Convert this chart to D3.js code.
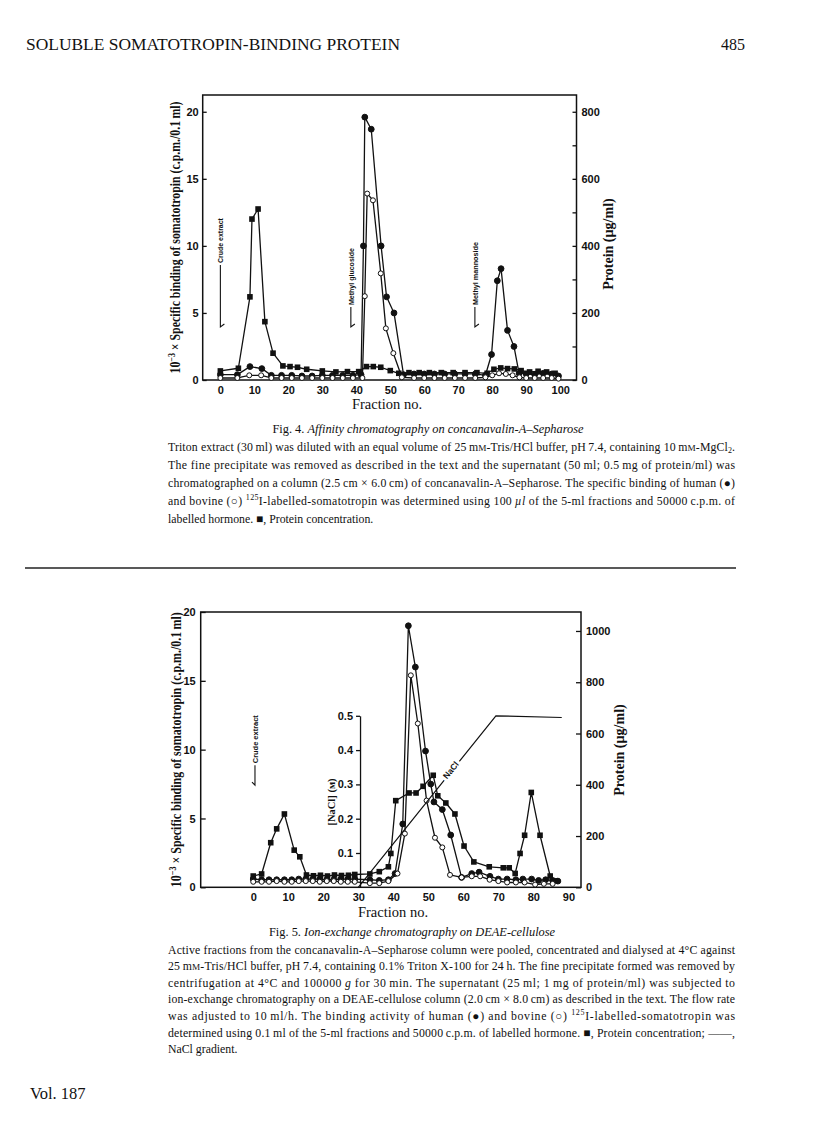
<!DOCTYPE html>
<html lang="en">
<head>
<meta charset="UTF-8">
<title>Soluble somatotropin-binding protein, Figs. 4 and 5</title>
<script src="https://d3js.org/d3.v7.min.js"></script>
<style>
  body { margin: 0; background: #fff; }
  svg { display: block; }
  .tick text { font-family: "Liberation Sans", Arial, sans-serif; font-weight: bold; font-size: 11px; fill: #111; }
  .tick line, .domain { stroke: #111; stroke-width: 1.3; }
  .serif { font-family: "Liberation Serif", "Times New Roman", serif; fill: #111; }
  .sans { font-family: "Liberation Sans", Arial, sans-serif; fill: #111; }
</style>
</head>
<body>
<svg width="816" height="1136"></svg>
<script>
// ---- Fig. 4: affinity chromatography (fraction no. / value) ----
var f4ProteinFrac = [0, 5.3, 8.7, 9.3, 11.1, 13.1, 15.5, 18.4, 20.5, 22.7, 25.4, 30, 34, 37.4, 40.7, 43, 45, 47.2, 50, 52.5, 55.5, 58.5, 61.5, 65, 68.5, 72, 75.5, 78.5, 80.5, 82.5, 84.5, 86.5, 88.5, 91, 93.5, 96, 98.5];
var f4ProteinUg   = [27, 35, 248, 480, 510, 174, 80, 42, 40, 38, 32, 27, 24, 25, 25, 40, 40, 38, 28, 20, 22, 22, 22, 22, 22, 22, 22, 20, 32, 36, 34, 33, 28, 24, 26, 24, 20];
var f4HumanFrac = [0, 5, 8.7, 12.2, 15, 18, 21, 24, 27, 30, 33, 36, 39, 41.4, 42.1, 42.5, 44.4, 47.3, 48.9, 51.1, 53.9, 57, 60, 63, 66, 69, 72, 75, 78, 79.8, 81.5, 82.6, 84.5, 86.4, 87.9, 90, 92.5, 95, 97.5, 99.5];
var f4HumanCpm  = [0.4, 0.4, 1.0, 0.85, 0.35, 0.35, 0.35, 0.3, 0.3, 0.35, 0.35, 0.35, 0.35, 0.4, 10.0, 19.6, 18.7, 10.0, 6.2, 5.0, 0.4, 0.45, 0.45, 0.45, 0.45, 0.45, 0.45, 0.45, 0.35, 1.9, 7.4, 8.3, 3.7, 2.5, 0.5, 0.45, 0.4, 0.5, 0.45, 0.3];
var f4BovineFrac = [0, 5, 8.5, 12, 15, 18, 21, 24, 27, 30, 33, 36, 39, 41.8, 42.5, 43.2, 44.9, 47.2, 48.7, 50.9, 53.4, 57, 60, 63, 66, 69, 72, 75, 78, 80, 82, 84, 86, 88, 90, 92.5, 95, 97.5, 99.5];
var f4BovineCpm  = [0.15, 0.15, 0.35, 0.35, 0.15, 0.15, 0.15, 0.15, 0.15, 0.15, 0.15, 0.15, 0.15, 0.15, 6.25, 13.9, 13.4, 7.95, 3.85, 2.0, 0.2, 0.15, 0.15, 0.15, 0.15, 0.15, 0.15, 0.15, 0.2, 0.35, 0.5, 0.45, 0.35, 0.2, 0.15, 0.15, 0.15, 0.15, 0.1];
var f4XTicks = [0, 10, 20, 30, 40, 50, 60, 70, 80, 90, 100];
var f4LeftTicks = [0, 5, 10, 15, 20];
var f4RightTicks = [0, 100, 200, 300, 400, 500, 600, 700, 800];
var f4Markers = ["Crude extract", "Methyl glucoside", "Methyl mannoside"];
var f4MarkerFrac = [0, 38.4, 74.9];

// ---- Fig. 5: ion-exchange chromatography ----
var f5ProteinFrac = [0, 2.4, 5, 6.7, 8.9, 11.7, 13.3, 15.2, 17.2, 19.2, 21.2, 23.2, 25.2, 27.2, 29, 33.3, 36, 38.6, 39.3, 40.7, 44.5, 46.5, 48.5, 51.4, 52.7, 55, 57.6, 60.2, 63, 67.4, 71.4, 73.1, 74.8, 76.2, 77.5, 79.4, 81.9, 84.8, 86.2];
var f5ProteinUg   = [44, 52, 174, 228, 286, 145, 119, 48, 45, 47, 44, 48, 46, 47, 50, 52, 61, 80, 132, 338, 368, 368, 394, 437, 357, 329, 286, 161, 99, 80, 76, 76, 54, 132, 203, 370, 203, 44, 25];
var f5HumanFrac = [0, 2.4, 4.5, 6.7, 8.9, 11, 13, 15, 17, 19, 21, 23, 25, 27, 29, 33.3, 36, 38.6, 40.5, 42.7, 44.3, 46.3, 49.2, 50.7, 51.6, 54, 56.4, 59.5, 62.4, 64.5, 67.6, 70, 72.5, 75, 77, 79.5, 81.5, 83.5, 85.5, 87];
var f5HumanCpm  = [0.6, 0.55, 0.55, 0.55, 0.55, 0.55, 0.6, 0.6, 0.6, 0.6, 0.55, 0.55, 0.6, 0.6, 0.6, 0.55, 0.5, 0.55, 1.0, 4.6, 19.0, 16.0, 9.9, 7.5, 6.2, 5.65, 3.8, 0.72, 1.0, 1.1, 0.8, 0.6, 0.6, 0.55, 0.6, 0.6, 0.5, 0.55, 0.5, 0.45];
var f5BovineFrac = [0, 2.4, 4.5, 6.7, 8.9, 11, 13, 15, 17, 19, 21, 23, 25, 27, 29, 33.3, 36, 38.6, 41.2, 43.3, 45, 47, 49.5, 51.9, 54, 56.2, 59.5, 62.4, 64.8, 67.5, 70, 72.5, 75, 77.5, 80.5, 83, 85.5];
var f5BovineCpm  = [0.4, 0.4, 0.4, 0.45, 0.4, 0.4, 0.45, 0.45, 0.45, 0.4, 0.45, 0.45, 0.4, 0.4, 0.4, 0.3, 0.3, 0.45, 1.0, 3.9, 15.4, 11.9, 6.3, 3.6, 2.9, 0.9, 0.72, 0.8, 0.8, 0.55, 0.45, 0.35, 0.35, 0.35, 0.2, 0.25, 0.25];
var f5NaClFrac = [30, 69.3, 88.1];
var f5NaClM    = [0, 0.5, 0.495];
var f5XTicks = [0, 10, 20, 30, 40, 50, 60, 70, 80, 90];
var f5LeftTicks = [0, 5, 10, 15, 20];
var f5RightTicks = [0, 200, 400, 600, 800, 1000];
var f5NaClTicks = [0.1, 0.2, 0.3, 0.4, 0.5];

// ---- page text ----
var headerText = "SOLUBLE SOMATOTROPIN-BINDING PROTEIN";
var pageNo = "485";
var volText = "Vol. 187";
var yTitle = "10{sup}\u22123{/sup} \u00d7 Specific binding of somatotropin (c.p.m./0.1\u2009ml)";
var fig4Caption = [
  "Fig. 4. {i}Affinity chromatography on concanavalin-A\u2013Sepharose{/i}",
  "Triton extract (30\u2009ml) was diluted with an equal volume of 25\u2009m{sc}M{/sc}-Tris/HCl buffer, pH\u20097.4, containing 10\u2009m{sc}M{/sc}-MgCl{sub}2{/sub}.",
  "The fine precipitate was removed as described in the text and the supernatant (50\u2009ml; 0.5\u2009mg of protein/ml) was",
  "chromatographed on a column (2.5\u2009cm \u00d7 6.0\u2009cm) of concanavalin-A\u2013Sepharose. The specific binding of human (\u25cf)",
  "and bovine (\u25cb) {sup}125{/sup}I-labelled-somatotropin was determined using 100\u2009{i}\u00b5l{/i} of the 5-ml fractions and 50000\u2009c.p.m. of",
  "labelled hormone. \u25a0, Protein concentration."
];
var fig5Caption = [
  "Fig. 5. {i}Ion-exchange chromatography on DEAE-cellulose{/i}",
  "Active fractions from the concanavalin-A\u2013Sepharose column were pooled, concentrated and dialysed at 4\u00b0C against",
  "25\u2009m{sc}M{/sc}-Tris/HCl buffer, pH\u20097.4, containing 0.1% Triton X-100 for 24\u2009h. The fine precipitate formed was removed by",
  "centrifugation at 4\u00b0C and 100000\u2009{i}g{/i} for 30\u2009min. The supernatant (25\u2009ml; 1\u2009mg of protein/ml) was subjected to",
  "ion-exchange chromatography on a DEAE-cellulose column (2.0\u2009cm \u00d7 8.0\u2009cm) as described in the text. The flow rate",
  "was adjusted to 10\u2009ml/h. The binding activity of human (\u25cf) and bovine (\u25cb) {sup}125{/sup}I-labelled-somatotropin was",
  "determined using 0.1\u2009ml of the 5-ml fractions and 50000\u2009c.p.m. of labelled hormone. \u25a0, Protein concentration; \u2014\u2014,",
  "NaCl gradient."
];

var svg = d3.select("svg");
svg.append("rect").attr("width", 816).attr("height", 1136).attr("fill", "#fff");

// writes "{i}..{/i}", "{sup}", "{sub}", "{sc}" markup into tspans
function addRich(sel, str, size) {
  var parts = str.split(/(\{\/?(?:i|sup|sub|sc)\})/);
  var st = {}, shift = 0;
  parts.forEach(function(p) {
    var m = p.match(/^\{(\/?)(\w+)\}$/);
    if (m) { st[m[2]] = !m[1]; return; }
    if (!p) return;
    var target = st.sup ? -0.38 * size : st.sub ? 0.22 * size : 0;
    var t = sel.append("tspan").text(p);
    if (target !== shift) { t.attr("dy", target - shift); shift = target; }
    if (st.i) t.attr("font-style", "italic");
    if (st.sup || st.sub) t.attr("font-size", size * 0.68);
    if (st.sc) t.attr("font-size", size * 0.78);
  });
}

function zipPts(fr, vals) { return d3.zip(fr, vals).map(function(d) { return {f: d[0], v: d[1]}; }); }

// header / footer
svg.append("text").attr("class", "serif").attr("x", 26).attr("y", 50)
  .attr("font-size", 16).attr("textLength", 374).attr("lengthAdjust", "spacingAndGlyphs").text(headerText);
svg.append("text").attr("class", "serif").attr("x", 745).attr("y", 50)
  .attr("font-size", 16).attr("text-anchor", "end").text(pageNo);
svg.append("text").attr("class", "serif").attr("x", 30).attr("y", 1099)
  .attr("font-size", 16.5).text(volText);
svg.append("line").attr("x1", 25).attr("x2", 736).attr("y1", 568).attr("y2", 568)
  .attr("stroke", "#222").attr("stroke-width", 1.6);

function caption(lines, titleX, titleY, firstY, step) {
  var t = svg.append("text").attr("class", "serif").attr("x", titleX).attr("y", titleY)
    .attr("font-size", 12.4).attr("text-anchor", "middle");
  addRich(t, lines[0], 12.4);
  lines.slice(1).forEach(function(l, i) {
    var s = svg.append("text").attr("class", "serif").attr("x", 168).attr("y", firstY + i * step)
      .attr("font-size", 11.8);
    addRich(s, l, 11.8);
    if (i < lines.length - 2) s.attr("textLength", 567).attr("lengthAdjust", "spacing");
  });
}
caption(fig4Caption, 428, 432.5, 450.5, 18);
caption(fig5Caption, 412, 935.5, 953.5, 16.6);

function drawPanel(c) {
  var g = svg.append("g");
  var x = d3.scaleLinear().domain(c.xDomain).range(c.xRange);
  var yL = d3.scaleLinear().domain(c.leftDomain).range(c.yRange);
  var yR = d3.scaleLinear().domain(c.rightDomain).range(c.yRange);

  g.append("g").attr("transform", "translate(0," + c.yRange[0] + ")")
    .call(d3.axisBottom(x).tickValues(c.xTicks).tickSize(0).tickPadding(6))
    .select(".domain").remove();
  g.append("g").attr("transform", "translate(" + c.xRange[0] + ",0)")
    .call(d3.axisLeft(yL).tickValues(c.leftTicks).tickSizeInner(-c.tickIn).tickSizeOuter(0).tickPadding(c.leftPad))
    .select(".domain").remove();
  g.append("g").attr("transform", "translate(" + c.xRange[1] + ",0)")
    .call(d3.axisRight(yR).tickValues(c.rightTicks).tickSizeInner(-c.tickIn).tickSizeOuter(0).tickPadding(5)
      .tickFormat(function(d) { return d % 200 === 0 ? d : ""; }))
    .select(".domain").remove();
  g.append("rect").attr("x", c.xRange[0]).attr("y", c.yRange[1])
    .attr("width", c.xRange[1] - c.xRange[0]).attr("height", c.yRange[0] - c.yRange[1])
    .attr("fill", "none").attr("stroke", "#111").attr("stroke-width", 1.5);

  var series = [
    {pts: zipPts(c.proteinFrac, c.proteinVal), y: yR, kind: "square"},
    {pts: zipPts(c.humanFrac, c.humanVal), y: yL, kind: "filled"},
    {pts: zipPts(c.bovineFrac, c.bovineVal), y: yL, kind: "open"}
  ];
  series.forEach(function(s) {
    g.append("path").datum(s.pts).attr("fill", "none").attr("stroke", "#111").attr("stroke-width", 1.3)
      .attr("stroke-linejoin", "round")
      .attr("d", d3.line().x(function(d) { return x(d.f); }).y(function(d) { return s.y(d.v); }));
  });
  series.forEach(function(s) {
    var m = g.append("g").selectAll(null).data(s.pts).enter();
    if (s.kind === "square") {
      m.append("rect").attr("x", function(d) { return x(d.f) - 2.8; }).attr("y", function(d) { return s.y(d.v) - 2.8; })
        .attr("width", 5.6).attr("height", 5.6).attr("fill", "#111");
    } else {
      m.append("circle").attr("cx", function(d) { return x(d.f); }).attr("cy", function(d) { return s.y(d.v); })
        .attr("r", s.kind === "filled" ? 2.9 : 2.5)
        .attr("fill", s.kind === "filled" ? "#111" : "#fff").attr("stroke", "#111").attr("stroke-width", 1);
    }
  });

  // eluent arrows
  c.markers.forEach(function(lab, i) {
    var ax = x(c.markerFrac[i]), yb = yL(c.markerBottom[i]), yt = yL(c.markerTop[i]);
    g.append("path").attr("fill", "none").attr("stroke", "#111").attr("stroke-width", 1.1)
      .attr("d", "M" + ax + "," + yt + "V" + yb + "l" + c.hook[0] + "," + c.hook[1]);
    g.append("text").attr("class", "sans").attr("font-size", 8).attr("font-weight", "bold")
      .attr("transform", "translate(" + (ax + 3) + "," + (yt - 2) + ") rotate(-90)")
      .attr("textLength", c.markerLen[i]).attr("lengthAdjust", "spacingAndGlyphs").text(lab);
  });

  // titles
  var lt = g.append("text").attr("class", "serif").attr("font-size", 14).attr("font-weight", "bold")
    .attr("text-anchor", "middle").attr("textLength", c.leftTitleLen).attr("lengthAdjust", "spacingAndGlyphs")
    .attr("transform", "translate(" + c.leftTitleX + "," + (c.yRange[0] + c.yRange[1]) / 2 + ") rotate(-90)");
  addRich(lt, yTitle, 14);
  g.append("text").attr("class", "serif").attr("font-size", 14).attr("font-weight", "bold")
    .attr("text-anchor", "middle")
    .attr("transform", "translate(" + c.rightTitleX + "," + c.rightTitleY + ") rotate(-90)")
    .text("Protein (\u00b5g/ml)");
  g.append("text").attr("class", "serif").attr("font-size", 14.5).attr("text-anchor", "middle")
    .attr("x", c.fracX).attr("y", c.fracY).text("Fraction no.");
  return {x: x, yL: yL, g: g};
}

drawPanel({
  xDomain: [-5.2, 104.8], xRange: [202.7, 576.5],
  leftDomain: [0, 21.25], rightDomain: [0, 850], yRange: [380, 95],
  xTicks: f4XTicks, leftTicks: f4LeftTicks, rightTicks: f4RightTicks, tickIn: 4, leftPad: 4,
  proteinFrac: f4ProteinFrac, proteinVal: f4ProteinUg,
  humanFrac: f4HumanFrac, humanVal: f4HumanCpm,
  bovineFrac: f4BovineFrac, bovineVal: f4BovineCpm,
  markers: f4Markers, markerFrac: f4MarkerFrac,
  markerTop: [8.57, 5.44, 5.44], markerBottom: [3.95, 3.95, 3.95], markerLen: [45, 57, 63], hook: [4, -3],
  leftTitleX: 180, leftTitleLen: 272, rightTitleX: 613, rightTitleY: 244, fracX: 387, fracY: 409
});

var p5 = drawPanel({
  xDomain: [-15, 93.6], xRange: [200.7, 581],
  leftDomain: [0, 20], rightDomain: [0, 1074], yRange: [887.3, 612],
  xTicks: f5XTicks, leftTicks: f5LeftTicks, rightTicks: f5RightTicks, tickIn: 5, leftPad: 5,
  proteinFrac: f5ProteinFrac, proteinVal: f5ProteinUg,
  humanFrac: f5HumanFrac, humanVal: f5HumanCpm,
  bovineFrac: f5BovineFrac, bovineVal: f5BovineCpm,
  markers: ["Crude extract"], markerFrac: [0.5],
  markerTop: [8.87], markerBottom: [7.42], markerLen: [48], hook: [-3, -3],
  leftTitleX: 181, leftTitleLen: 275, rightTitleX: 624, rightTitleY: 750, fracX: 393, fracY: 917
});

// NaCl gradient on its own inset axis
var yN = d3.scaleLinear().domain([0, 0.5]).range([887.3, 715.8]);
var naclX = p5.x(30.5);
p5.g.append("g").attr("transform", "translate(" + naclX + ",0)")
  .call(d3.axisLeft(yN).tickValues(f5NaClTicks).tickSizeInner(4).tickSizeOuter(0).tickPadding(3)
    .tickFormat(d3.format(".1f")))
  .selectAll(".tick text").attr("font-size", 9.5);
p5.g.append("path").datum(zipPts(f5NaClFrac, f5NaClM)).attr("fill", "none").attr("stroke", "#111").attr("stroke-width", 1.2)
  .attr("d", d3.line().x(function(d) { return p5.x(d.f); }).y(function(d) { return yN(d.v); }));
p5.g.append("text").attr("class", "sans").attr("font-size", 8.5).attr("font-weight", "bold")
  .attr("text-anchor", "middle").attr("stroke", "#fff").attr("stroke-width", 6).attr("paint-order", "stroke")
  .attr("transform", "translate(" + p5.x(57.1) + "," + (yN(0.345) + 3) + ") rotate(-51)").text("NaCl");
p5.g.append("text").attr("class", "serif").attr("font-size", 10.5).attr("font-weight", "bold")
  .attr("text-anchor", "middle").attr("transform", "translate(" + (naclX - 25) + "," + 802 + ") rotate(-90)")
  .text("[NaCl] (\u043c)");
</script>
</body>
</html>
